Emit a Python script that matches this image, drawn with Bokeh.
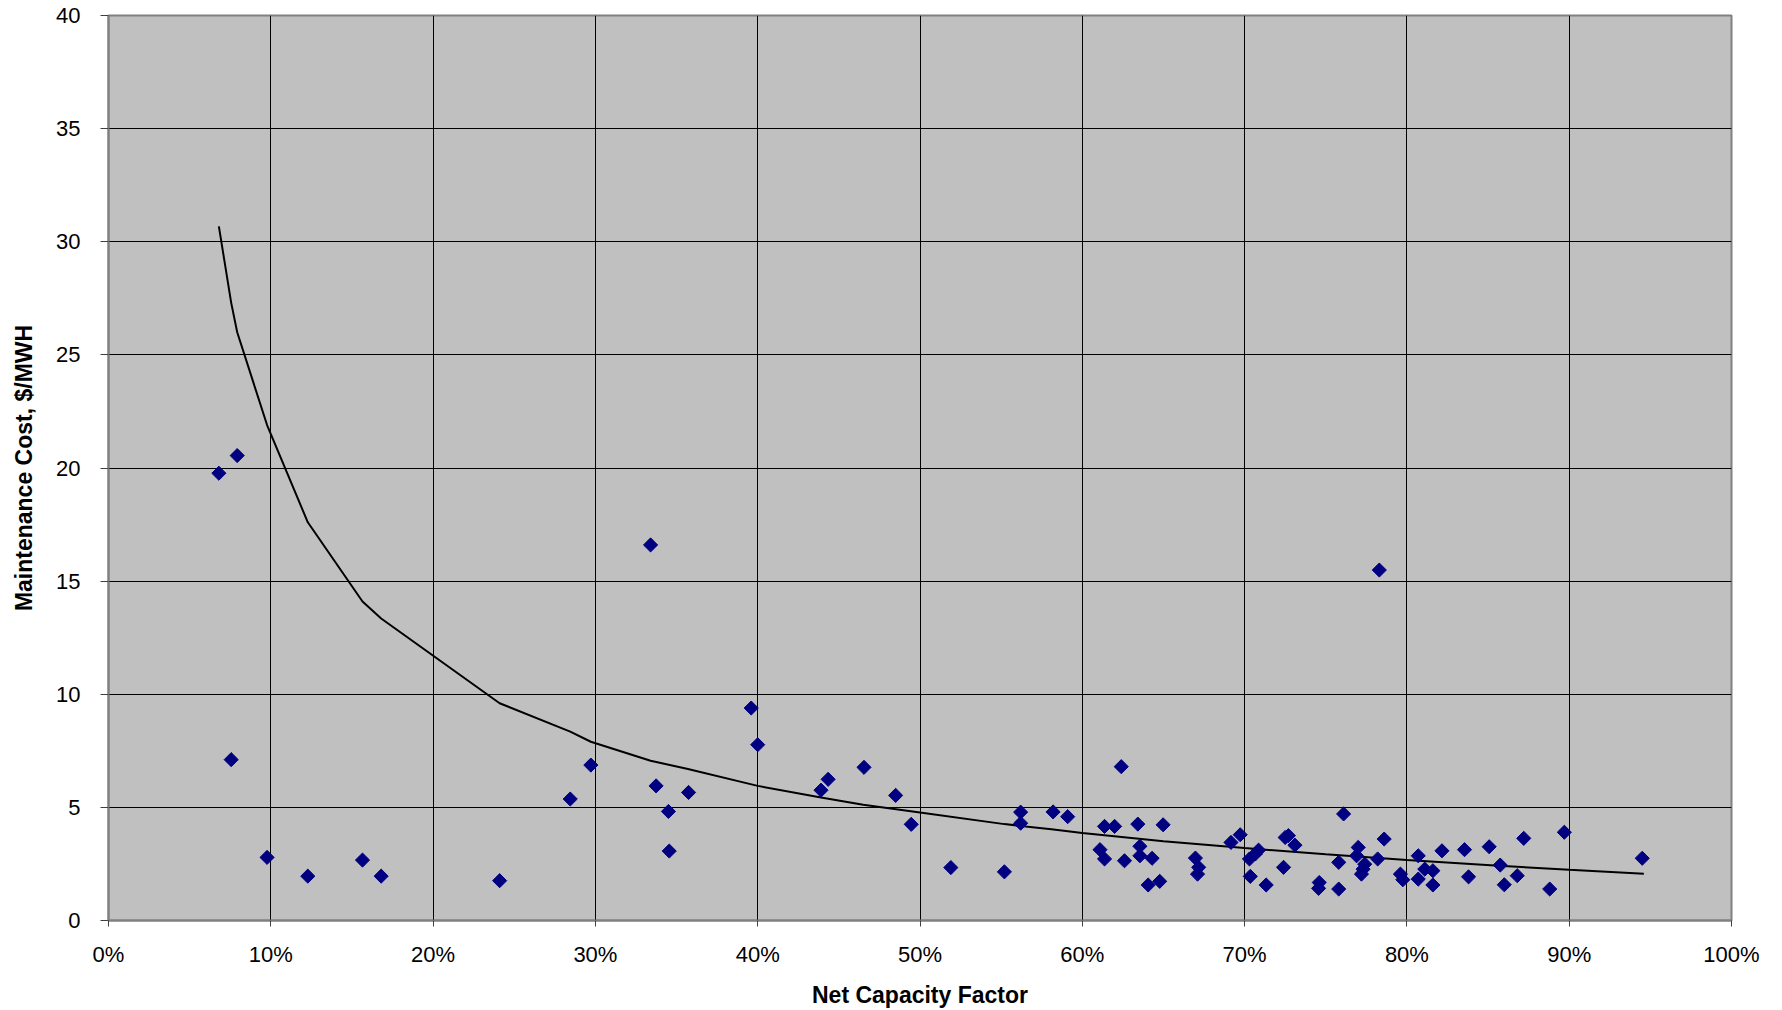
from math import pi
from bokeh.plotting import figure
from bokeh.models import NumeralTickFormatter, FixedTicker, Range1d, ColumnDataSource
from bokeh.embed import file_html
from bokeh.resources import INLINE

# Net capacity factor (fraction) and maintenance cost ($/MWH) per unit
capacity_factor = [
    0.0680, 0.0793, 0.0756, 0.0977, 0.1228, 0.1565, 0.1680, 0.2410, 0.2845, 0.2972,
    0.3340, 0.3374, 0.3450, 0.3455, 0.3574, 0.3960, 0.4000, 0.4390, 0.4434, 0.4655,
    0.4850, 0.4946, 0.5190, 0.5520, 0.5620, 0.5620, 0.5820, 0.5910,
    0.6137, 0.6199, 0.6342, 0.6498, 0.6109, 0.6137, 0.6260, 0.6355, 0.6355, 0.6430,
    0.6406, 0.6477, 0.6240, 0.6697, 0.6717, 0.6710, 0.6916, 0.6973, 0.7035, 0.7030,
    0.7066, 0.7086, 0.7133, 0.7240, 0.7250, 0.7270, 0.7310, 0.7460, 0.7456, 0.7580,
    0.7580, 0.7610, 0.7700, 0.7690, 0.7740, 0.7730, 0.7720, 0.7820, 0.7830, 0.7860,
    0.7960, 0.7975, 0.8070, 0.8070, 0.8110, 0.8160, 0.8160, 0.8216, 0.8355, 0.8380,
    0.8507, 0.8575, 0.8600, 0.8680, 0.8720, 0.8880, 0.8970, 0.9450,
]
maintenance_cost = [
    19.77, 20.55, 7.11, 2.79, 1.96, 2.67, 1.96, 1.76, 5.37, 6.87,
    16.60, 5.95, 4.82, 3.07, 5.66, 9.39, 7.77, 5.76, 6.24, 6.77,
    5.53, 4.25, 2.34, 2.15, 4.79, 4.30, 4.80, 4.59,
    4.16, 4.16, 4.26, 4.23, 3.13, 2.72, 2.64, 3.28, 2.86, 2.75,
    1.57, 1.73, 6.80, 2.76, 2.35, 2.05, 3.45, 3.79, 1.95, 2.72,
    2.94, 3.11, 1.57, 2.35, 3.67, 3.75, 3.33, 1.68, 1.42, 1.39,
    2.57, 4.71, 3.23, 2.86, 2.49, 2.27, 2.05, 2.72, 15.49, 3.60,
    2.05, 1.80, 2.86, 1.83, 2.27, 2.20, 1.57, 3.08, 3.13, 1.93,
    3.26, 2.45, 1.58, 1.98, 3.63, 1.39, 3.90, 2.75,
]

# Trend line
trend_factor = [
    0.068, 0.0756, 0.0793, 0.0977, 0.1228, 0.1565, 0.168, 0.241, 0.2845, 0.2972,
    0.334, 0.357, 0.400, 0.439, 0.465, 0.500, 0.552, 0.581, 0.600, 0.650,
    0.700, 0.750, 0.800, 0.854, 0.900, 0.946,
]
trend_cost = [
    30.68, 27.30, 26.00, 21.90, 17.60, 14.10, 13.35, 9.60, 8.35, 7.90,
    7.06, 6.70, 5.95, 5.44, 5.12, 4.77, 4.26, 4.03, 3.87, 3.50,
    3.20, 2.93, 2.67, 2.43, 2.24, 2.07,
]

x_ticks = [0.0, 0.1, 0.2, 0.3, 0.4, 0.5, 0.6, 0.7, 0.8, 0.9, 1.0]
y_ticks = [0, 5, 10, 15, 20, 25, 30, 35, 40]

FONT = "Liberation Sans"

p = figure(
    width=1782, height=1010,
    x_range=Range1d(0, 1), y_range=Range1d(0, 40),
    output_backend="svg", toolbar_location=None,
    min_border_left=108, min_border_right=51, min_border_top=15, min_border_bottom=89,
)
p.background_fill_color = "#C0C0C0"
p.border_fill_color = "white"
p.outline_line_color = "#808080"
p.outline_line_width = 2

for g in (p.xgrid, p.ygrid):
    g.grid_line_color = "black"
    g.grid_line_width = 1
    g.grid_line_alpha = 1.0

p.xaxis.ticker = FixedTicker(ticks=x_ticks)
p.yaxis.ticker = FixedTicker(ticks=y_ticks)
p.xaxis.formatter = NumeralTickFormatter(format="0%")

for ax in (p.xaxis, p.yaxis):
    ax.axis_line_color = "#808080"
    ax.axis_line_width = 2
    ax.major_tick_line_color = "#404040"
    ax.major_tick_line_width = 1
    ax.major_tick_in = 0
    ax.minor_tick_line_color = None
    ax.major_label_text_font = FONT
    ax.major_label_text_font_size = "22px"
    ax.major_label_text_color = "black"
    ax.axis_label_text_font = FONT
    ax.axis_label_text_font_size = "23px"
    ax.axis_label_text_font_style = "bold"
    ax.axis_label_text_color = "black"

p.xaxis.major_tick_out = 6
p.yaxis.major_tick_out = 8
p.xaxis.major_label_standoff = 15
p.yaxis.major_label_standoff = 20
p.xaxis.axis_label = "Net Capacity Factor"
p.yaxis.axis_label = "Maintenance Cost, $/MWH"
p.xaxis.axis_label_standoff = 12
p.yaxis.axis_label_standoff = 16

trend_src = ColumnDataSource(dict(x=trend_factor, y=trend_cost))
p.line("x", "y", source=trend_src, line_color="black", line_width=2)

pts = ColumnDataSource(dict(x=capacity_factor, y=maintenance_cost))
p.scatter("x", "y", source=pts, marker="square", size=10, angle=pi / 4,
          fill_color="#000080", line_color="#000080", line_width=1)

open("out.html", "w").write(file_html(p, INLINE))
